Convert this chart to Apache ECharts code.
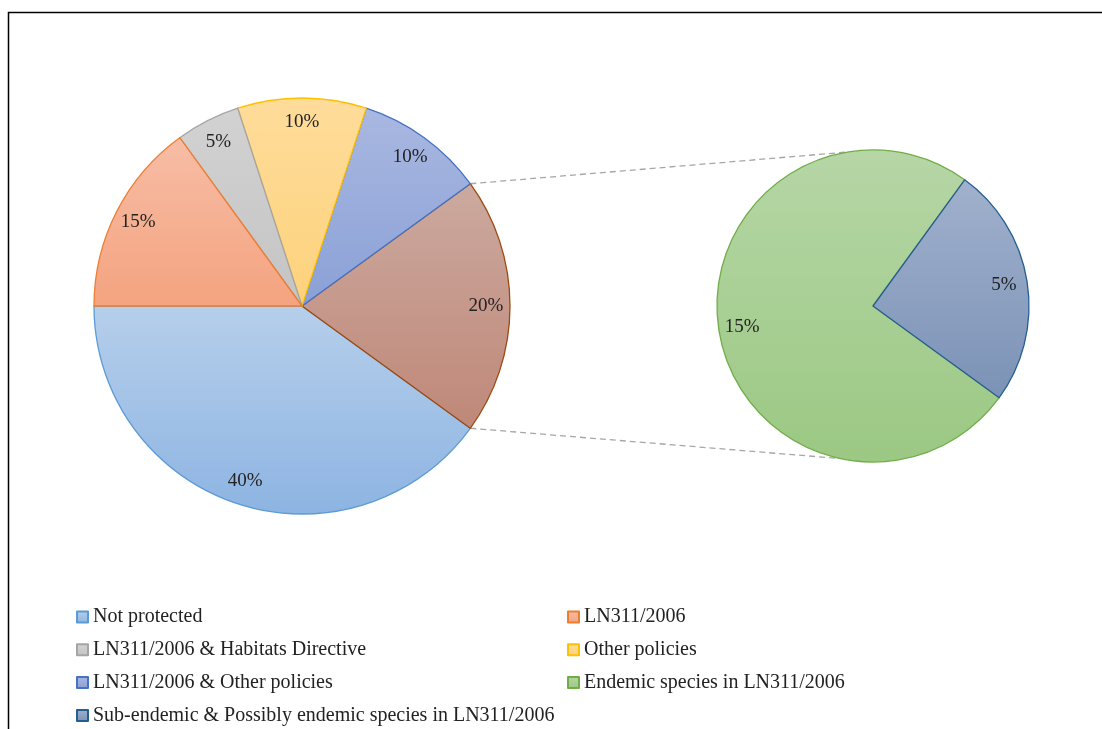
<!DOCTYPE html>
<html>
<head>
<meta charset="utf-8">
<script src="https://cdn.jsdelivr.net/npm/echarts@6/dist/echarts.min.js"></script>
<style>
html,body{margin:0;padding:0;background:#fff;}
#chart{width:1102px;height:729px;}
</style>
</head>
<body>
<div id="chart"></div>
<script>
// ---- data ----
const mainCategories = ['Not protected', 'Other', 'LN311/2006 & Other policies', 'Other policies', 'LN311/2006 & Habitats Directive', 'LN311/2006'];
const mainValues = [40, 20, 10, 10, 5, 15];
const subCategories = ['Endemic species in LN311/2006', 'Sub-endemic & Possibly endemic species in LN311/2006'];
const subValues = [15, 5];
const legendCol1 = ['Not protected', 'LN311/2006 & Habitats Directive', 'LN311/2006 & Other policies', 'Sub-endemic & Possibly endemic species in LN311/2006'];
const legendCol2 = ['LN311/2006', 'Other policies', 'Endemic species in LN311/2006'];
const combinedName = 'Other';

// ---- styles ----
const styles = {
  'Not protected': ['#b6cfeb', '#8db4e2', '#5b9bd5'],
  'Other': ['#cca99f', '#bf8878', '#9e480e'],
  'LN311/2006 & Other policies': ['#a9b8e1', '#8aa0d6', '#4472c4'],
  'Other policies': ['#fedc9a', '#fdd27c', '#ffc000'],
  'LN311/2006 & Habitats Directive': ['#d2d2d2', '#c4c4c4', '#a5a5a5'],
  'LN311/2006': ['#f7bda6', '#f4a37f', '#ed7d31'],
  'Endemic species in LN311/2006': ['#b6d6a6', '#9bc883', '#70ad47'],
  'Sub-endemic & Possibly endemic species in LN311/2006': ['#a1b1cd', '#7b92b6', '#255e91']
};
const FONT = '"Liberation Serif", "DejaVu Serif", serif';
const mainCenter = [302, 306], mainR = 208, mainStart = 180;
const subCenter = [873, 306], subR = 156, subStart = 54;
const labelFrac = 0.87, subLabelFrac = 0.83;

function grad(c) {
  return new echarts.graphic.LinearGradient(0, 0, 0, 1, [{offset: 0, color: c[0]}, {offset: 1, color: c[1]}]);
}
function mkData(cats, vals) {
  return cats.map((n, i) => ({
    name: n, value: vals[i],
    itemStyle: {color: grad(styles[n]), borderColor: styles[n][2], borderWidth: 1.3}
  }));
}
function ghostData(cats, vals) {
  return cats.map((n, i) => ({name: n, value: vals[i]}));
}

// connector endpoints computed from the combined slice's angles
const total = mainValues.reduce((a, b) => a + b, 0);
const ci = mainCategories.indexOf(combinedName);
let cum = 0; for (let i = 0; i < ci; i++) cum += mainValues[i];
const a1 = (mainStart + 360 * cum / total) * Math.PI / 180;
const a2 = (mainStart + 360 * (cum + mainValues[ci]) / total) * Math.PI / 180;
const pt = (c, r, a) => [c[0] + r * Math.cos(a), c[1] - r * Math.sin(a)];
const pLow = pt(mainCenter, mainR, a1), pHigh = pt(mainCenter, mainR, a2);
const qHigh = pt(subCenter, subR, 99 * Math.PI / 180), qLow = pt(subCenter, subR, 258 * Math.PI / 180);

const labelStyle = {show: true, position: 'inside', color: '#222', fontSize: 19, fontFamily: FONT,
  formatter: p => p.value + '%'};
const legendText = {fontFamily: FONT, fontSize: 20, color: '#222', lineHeight: 20};

const chart = echarts.init(document.getElementById('chart'), null, {renderer: 'canvas'});
chart.setOption({
  animation: false,
  backgroundColor: '#fff',
  legend: [
    {data: legendCol1, orient: 'vertical', left: 76, top: 607, padding: 0, itemWidth: 11, itemHeight: 11, itemGap: 12.8,
     icon: 'rect', selectedMode: false, textStyle: legendText},
    {data: legendCol2, orient: 'vertical', left: 567, top: 607, padding: 0, itemWidth: 11, itemHeight: 11, itemGap: 12.8,
     icon: 'rect', selectedMode: false, textStyle: legendText}
  ],
  graphic: [
    {type: 'polyline', silent: true, shape: {points: [[8.5, 729], [8.5, 12.5], [1110, 12.5]]}, style: {stroke: '#000', lineWidth: 1.5, fill: null}},
    {type: 'line', silent: true, shape: {x1: pHigh[0], y1: pHigh[1], x2: qHigh[0], y2: qHigh[1]}, style: {stroke: '#a6a6a6', lineWidth: 1.3, lineDash: [6, 4]}, z: -1},
    {type: 'line', silent: true, shape: {x1: pLow[0], y1: pLow[1], x2: qLow[0], y2: qLow[1]}, style: {stroke: '#a6a6a6', lineWidth: 1.3, lineDash: [6, 4]}, z: -1}
  ],
  series: [
    {type: 'pie', name: 'main', center: mainCenter, radius: [0, mainR], startAngle: mainStart, clockwise: false,
     avoidLabelOverlap: false, silent: true, label: {show: false}, labelLine: {show: false},
     data: mkData(mainCategories, mainValues)},
    {type: 'pie', name: 'sub', center: subCenter, radius: [0, subR], startAngle: subStart, clockwise: false,
     avoidLabelOverlap: false, silent: true, label: {show: false}, labelLine: {show: false},
     data: mkData(subCategories, subValues)},
    {type: 'pie', name: 'mainLabels', center: mainCenter, radius: [0, mainR * labelFrac * 2], startAngle: mainStart, clockwise: false,
     avoidLabelOverlap: false, silent: true, itemStyle: {color: 'rgba(0,0,0,0)', borderWidth: 0}, label: labelStyle, labelLine: {show: false},
     data: ghostData(mainCategories, mainValues), z: 5},
    {type: 'pie', name: 'subLabels', center: subCenter, radius: [0, subR * subLabelFrac * 2], startAngle: subStart, clockwise: false,
     avoidLabelOverlap: false, silent: true, itemStyle: {color: 'rgba(0,0,0,0)', borderWidth: 0}, label: labelStyle, labelLine: {show: false},
     data: ghostData(subCategories, subValues), z: 5}
  ]
});
</script>
</body>
</html>
